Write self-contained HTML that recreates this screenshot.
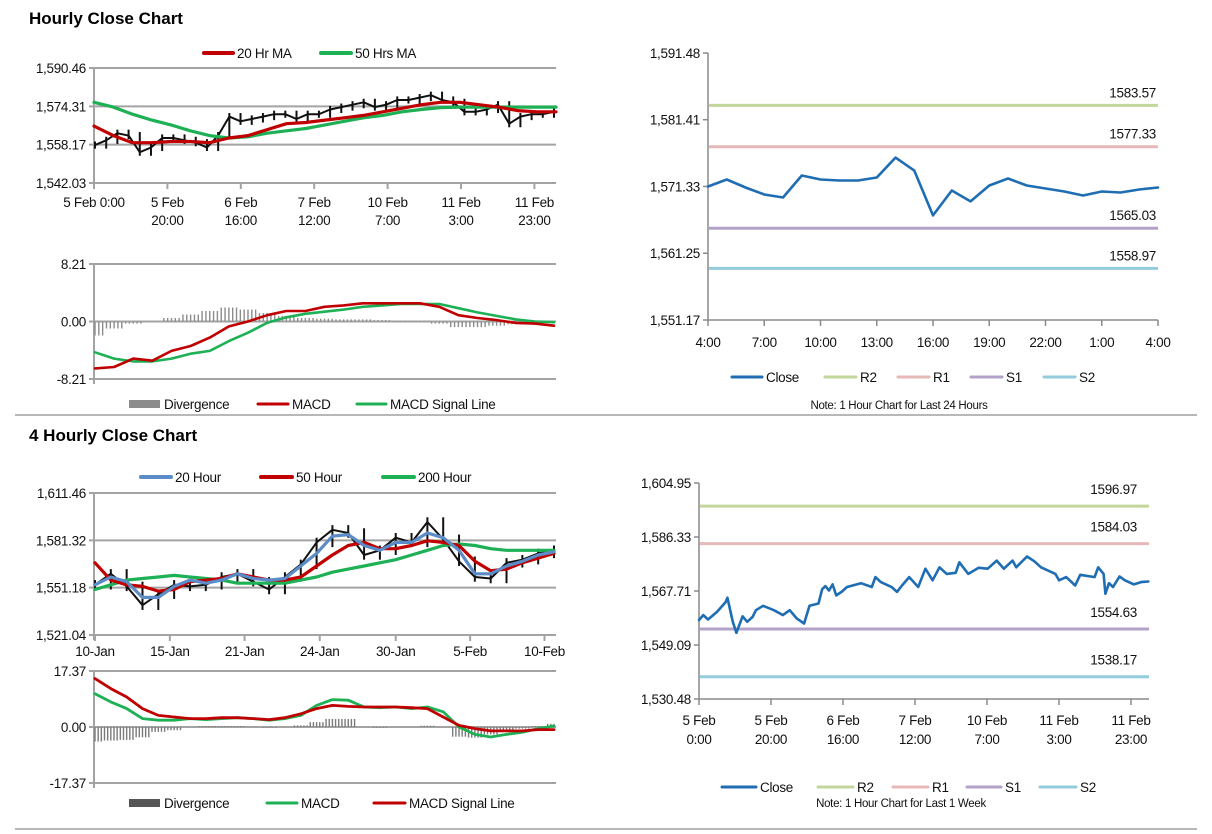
<!DOCTYPE html>
<html><head><meta charset="utf-8"><style>
html,body{margin:0;padding:0;background:#fff;}
svg{display:block;font-family:"Liberation Sans",Arial,sans-serif;}
</style></head><body>
<svg id="chart" width="1212" height="834" viewBox="0 0 1212 834" xmlns="http://www.w3.org/2000/svg">
<rect width="1212" height="834" fill="#fff"/>
<text x="29" y="24" font-size="17" font-weight="bold">Hourly Close Chart</text>
<text x="29" y="441" font-size="17" font-weight="bold">4 Hourly Close Chart</text>
<line x1="15" y1="415" x2="1197" y2="415" stroke="#a0a0a0" stroke-width="1.5"/>
<line x1="15" y1="829" x2="1197" y2="829" stroke="#a0a0a0" stroke-width="1.5"/>
<g id="layer"></g>
</svg>
<script>
// ---------- Top-left: hourly price ----------
const tlClose=[1558,1560,1563,1562,1555,1557,1561,1561,1560,1559,1557,1562,1570,1568,1569,1570,1571,1571,1569,1571,1571,1573,1574,1575,1576,1574,1575,1577,1577,1578,1579,1577,1576,1572,1572,1573,1575,1567,1570,1571,1571,1572];
const tlMA20=[1566,1562,1559,1559,1559.5,1559.5,1559,1561,1562,1564.5,1567,1567.5,1568.5,1569.5,1570.5,1572,1573.5,1575,1576,1576,1575,1574,1572.5,1572,1572];
const tlMA50=[1576,1574,1571,1568.5,1566.5,1564,1562,1561,1561.5,1563,1564,1565,1566.5,1568,1569.5,1570.5,1572,1573,1573.8,1574,1574,1574,1574,1574,1574];
const tlYTicks=[1542.03,1558.17,1574.31,1590.46];
const tlYLabels=['1,542.03','1,558.17','1,574.31','1,590.46'];
const tlXLabels=[['5 Feb 0:00'],['5 Feb','20:00'],['6 Feb','16:00'],['7 Feb','12:00'],['10 Feb','7:00'],['11 Feb','3:00'],['11 Feb','23:00']];
// ---------- Top-left: MACD ----------
const tlMacd=[-6.7,-6.5,-5.3,-5.6,-4.2,-3.5,-2.3,-0.7,0,0.9,1.5,1.5,2.1,2.3,2.6,2.6,2.6,2.6,2.1,0.9,0.5,0.2,-0.2,-0.3,-0.6];
const tlSignal=[-4.4,-5.3,-5.7,-5.7,-5.3,-4.6,-4.2,-2.8,-1.6,-0.2,0.6,1.1,1.4,1.7,2.1,2.3,2.5,2.5,2.5,1.9,1.3,0.8,0.3,0,-0.1];
const tlDiv=[-2.0,-1.0,-0.3,0,0.5,1.0,1.5,2.0,1.7,1.2,0.8,0.5,0.4,0.3,0.3,0.2,0.1,0.1,-0.3,-0.8,-0.8,-0.6,-0.4,-0.3,-0.2];
const tlMYTicks=[-8.21,0,8.21];
const tlMYLabels=['-8.21','0.00','8.21'];
// ---------- Top-right: last 24 hours ----------
const trClose=[1571.32,1572.38,1571.17,1570.12,1569.67,1572.98,1572.38,1572.23,1572.23,1572.68,1575.69,1573.73,1566.96,1570.72,1569.07,1571.47,1572.53,1571.47,1571.02,1570.57,1569.97,1570.57,1570.42,1570.87,1571.17];
const trLevels=[1583.57,1577.33,1565.03,1558.97];
const trLevelNames=['R2','R1','S1','S2'];
const trYTicks=[1551.17,1561.25,1571.33,1581.41,1591.48];
const trYLabels=['1,551.17','1,561.25','1,571.33','1,581.41','1,591.48'];
const trXLabels=['4:00','7:00','10:00','13:00','16:00','19:00','22:00','1:00','4:00'];
// ---------- Bottom-left: 4 hourly ----------
const blClose=[1553,1560,1552,1540,1547,1553,1552,1553,1558,1560,1555,1550,1558,1566,1580,1588,1586,1572,1575,1583,1580,1593,1582,1568,1558,1557,1567,1569,1573,1575];
const blMA20=[1553,1558,1555,1545,1545,1552,1556,1554,1556,1560,1557,1556,1557,1565,1573,1584,1585,1578,1575,1580,1580,1586,1583,1575,1560,1560,1565,1568,1572,1574];
const blMA50=[1567,1556,1553,1552,1549,1550,1555,1556,1557,1560,1558,1556,1556,1558,1565,1572,1578,1580,1576,1576,1578,1581,1580,1578,1568,1562,1563,1567,1570,1573];
const blMA200=[1550,1553,1556,1557,1558,1559,1558,1557,1556,1554,1554,1554,1554,1556,1558,1561,1563,1565,1567,1569,1572,1575,1578,1579,1578,1576,1575,1575,1575,1575];
const blYTicks=[1521.04,1551.18,1581.32,1611.46];
const blYLabels=['1,521.04','1,551.18','1,581.32','1,611.46'];
const blXTickIdx=[0,4.73,9.45,14.2,19.0,23.7,28.4];
const blXLabels=['10-Jan','15-Jan','21-Jan','24-Jan','30-Jan','5-Feb','10-Feb'];
const blMacd=[10.3,7.8,5.7,2.6,2.1,2.1,2.6,2.3,2.6,2.9,2.6,2.1,2.6,3.6,6.7,8.5,8.3,6.2,6.0,6.2,5.7,6.2,4.7,0,-2.3,-3.1,-2.3,-1.6,-0.5,0.3];
const blSignal=[15.0,11.9,9.3,5.7,3.6,3.1,2.6,2.6,2.9,2.9,2.6,2.3,2.9,4.1,5.7,6.7,6.4,6.2,6.2,6.2,6.0,5.7,3.1,0.5,-0.5,-1.2,-1.2,-1.2,-0.8,-0.8];
const blDiv=[-4.5,-4.2,-4,-3.2,-1.5,-1,0,0.3,0.3,0.3,0,-0.2,0,0.5,1.5,2.5,2.5,0,-0.2,0,0,0.4,0,-3,-3.3,-2.3,-1.2,-0.5,0.3,1];
const blMYTicks=[-17.37,0,17.37];
const blMYLabels=['-17.37','0.00','17.37'];
// ---------- Bottom-right: last week hourly ----------
const brHours=[0,1.2,2.5,5,7.4,7.9,9.4,10.4,12.1,13.4,14.9,15.8,17.8,20.8,23.3,25.2,27.2,29.2,30.7,33.2,34.2,35.1,36.1,37.1,38.1,39.6,41.1,45,48,49,50.5,53.5,55,56.4,58.4,60.9,62.9,64.9,66.8,68.8,71.3,72.3,74.8,77.7,80.2,82.7,84.7,87.1,88.1,91.1,93.1,95,99,100,102,104.5,105.9,109.9,110.9,112.4,112.9,113.9,115,116.8,118.3,120.8,122.8,124.8];
const brClose=[1557.7,1559.4,1557.9,1560.5,1563.9,1565.4,1557.1,1553.3,1559.0,1557.1,1558.8,1561.1,1562.6,1561.1,1559.4,1561.1,1558.2,1556.5,1562.6,1563.4,1568.3,1569.4,1567.9,1570.0,1566.2,1567.4,1569.1,1570.4,1569.1,1572.5,1570.8,1569.1,1567.4,1569.6,1572.5,1569.1,1575.4,1571.4,1575.9,1573.6,1574.0,1577.6,1573.6,1575.7,1575.4,1578.2,1575.4,1578.2,1575.9,1579.6,1578.0,1575.9,1573.6,1571.4,1572.5,1569.6,1573.3,1572.5,1575.9,1573.6,1566.8,1570.4,1569.1,1572.7,1571.4,1570.0,1570.8,1571.0];
const brLevels=[1596.97,1584.03,1554.63,1538.17];
const brYTicks=[1530.48,1549.09,1567.71,1586.33,1604.95];
const brYLabels=['1,530.48','1,549.09','1,567.71','1,586.33','1,604.95'];
const brXTickHours=[0,20,40,60,80,100,120];
const brXLabels=[['5 Feb','0:00'],['5 Feb','20:00'],['6 Feb','16:00'],['7 Feb','12:00'],['10 Feb','7:00'],['11 Feb','3:00'],['11 Feb','23:00']];

const NS='http://www.w3.org/2000/svg';
const layer=document.getElementById('layer');
const RED='#c00000',GREEN='#1db055',BLUE='#5b8cc8',CLOSE='#1f6db3',GRID='#a3a3a3';
const LVL=['#c3d69b','#e6b9b8','#b3a2c7','#93cddd'];
function sc(d0,d1,r0,r1){return v=>r0+(v-d0)/(d1-d0)*(r1-r0);}
function mk(tag,attrs,parent){const e=document.createElementNS(NS,tag);for(const k in attrs)e.setAttribute(k,attrs[k]);(parent||layer).appendChild(e);return e;}
function grp(name){const g=document.createElementNS(NS,'g');


layer.appendChild(g);return g;}
function txt(g,x,y,s,anchor,size,name){const t=mk('text',{x:x,y:y,'font-size':size||13,'text-anchor':anchor||'start','letter-spacing':'-0.3',fill:'#111'},g);t.textContent=s;


return t;}
function path(g,pts,color,w,name){const d=pts.map((p,i)=>(i?'L':'M')+p[0].toFixed(1)+','+p[1].toFixed(1)).join('');const p=mk('path',{d:d,fill:'none',stroke:color,'stroke-width':w,'stroke-linejoin':'round','stroke-linecap':'round'},g);


return p;}
function hline(g,x1,x2,y,color,w,name){const l=mk('line',{x1:x1,x2:x2,y1:y,y2:y,stroke:color,'stroke-width':w},g);


return l;}
function vline(g,x,y1,y2,color,w,name){const l=mk('line',{x1:x,x2:x,y1:y1,y2:y2,stroke:color,'stroke-width':w},g);


return l;}
function legend(g,items,y){items.forEach(it=>{
 if(it.box){const r=mk('rect',{x:it.x1,y:y-4,width:it.x2-it.x1,height:8,fill:it.c},g);
 
 }
 else{const l=hline(g,it.x1,it.x2,y,it.c,it.w||4,'legend-swatch');l.setAttribute('stroke-linecap','round');}
 txt(g,it.x2+4,y+5,it.t,'start',13.5,'legend-entry');});}
function gridPanel(g,x0,x1,ys,labels,yS){ys.forEach((v,i)=>{hline(g,x0-5,x1,yS(v),GRID,2,'gridline');txt(g,x0-8,yS(v)+5,labels[i],'end',13.5,'y-tick-label');});vline(g,x0,yS(ys[ys.length-1]),yS(ys[0])+5,GRID,2,'y-axis');}
function bars(g,vals,xS,yS,w,ext){path(g,vals.map((v,i)=>[xS(i),yS(v)]),'#111',2,'price-line');
vals.forEach((v,i)=>{const p=i?vals[i-1]:v;const lo=Math.min(p,v)-ext,hi=Math.max(p,v)+ext;vline(g,xS(i),yS(hi),yS(lo),'#111',w,'price-bar');});}
function divBars(g,vals,xS,yS,color){const step=xS(1)-xS(0);vals.forEach((v,i)=>{for(let k=-2;k<=2;k++){const x=xS(i)+k*step/5;if(x<xS(0)||x>xS(vals.length-1))continue;vline(g,x,yS(0),yS(v),color,1.4,'divergence-bar');}});}

// ===== Top-left price =====
(function(){const g=grp('hourly-price-chart');const x0=94,x1=556;
const yS=sc(1542.03,1590.46,183,68);gridPanel(g,x0,x1,tlYTicks,tlYLabels,yS);
tlXLabels.forEach((l,i)=>{const x=x0+i*73.4;vline(g,x,183,189,GRID,2,'x-tick');txt(g,x,207,l[0],'middle',13.5,'x-tick-label');if(l[1])txt(g,x,225,l[1],'middle',13.5,'x-tick-label');});
const cS=sc(0,tlClose.length-1,x0+1,x1-2);bars(g,tlClose,cS,yS,2,1.5);
const mS=sc(0,tlMA20.length-1,x0,x1);
path(g,tlMA50.map((v,i)=>[mS(i),yS(v)]),GREEN,3.2,'ma50-line');
path(g,tlMA20.map((v,i)=>[mS(i),yS(v)]),RED,3.2,'ma20-line');
legend(g,[{x1:204,x2:233,c:RED,t:'20 Hr MA'},{x1:321,x2:351,c:GREEN,t:'50 Hrs MA'}],53);})();
// ===== Top-left MACD =====
(function(){const g=grp('hourly-macd-chart');const x0=94,x1=556;
const yS=sc(-8.21,8.21,379,264);gridPanel(g,x0,x1,tlMYTicks,tlMYLabels,yS);
const xS=sc(0,tlMacd.length-1,x0+1,x1-2);divBars(g,tlDiv,xS,yS,'#8c8c8c');
path(g,tlSignal.map((v,i)=>[xS(i),yS(v)]),GREEN,2.6,'macd-signal-line');
path(g,tlMacd.map((v,i)=>[xS(i),yS(v)]),RED,2.6,'macd-line');
legend(g,[{x1:129,x2:160,c:'#8c8c8c',box:1,t:'Divergence'},{x1:258,x2:288,c:RED,w:3,t:'MACD'},{x1:357,x2:386,c:GREEN,w:3,t:'MACD Signal Line'}],404);})();
// ===== Top-right =====
(function(){const g=grp('last-24h-chart');const x0=708,x1=1158;
const yS=sc(1551.17,1591.48,320,53);const xS=sc(0,24,x0,x1);
vline(g,x0,53,320,'#8a8a8a',1.5,'y-axis');hline(g,x0,x1,320,'#8a8a8a',1.5,'x-axis');
trYTicks.forEach((v,i)=>{hline(g,x0-5,x0,yS(v),'#8a8a8a',1.5,'y-tick');txt(g,x0-8,yS(v)+5,trYLabels[i],'end',13.5,'y-tick-label');});
trXLabels.forEach((l,i)=>{const x=xS(i*3);vline(g,x,320,326,'#8a8a8a',1.5,'x-tick');txt(g,x,347,l,'middle',13.5,'x-tick-label');});
trLevels.forEach((v,i)=>{hline(g,x0+1,x1,yS(v),LVL[i],3,'level-'+trLevelNames[i].toLowerCase());txt(g,1156,yS(v)-8,v.toFixed(2),'end',13.5,'level-value');});
path(g,trClose.map((v,i)=>[xS(i),yS(v)]),CLOSE,2.6,'close-line');
legend(g,[{x1:732,x2:762,c:CLOSE,w:3,t:'Close'},{x1:825,x2:856,c:LVL[0],w:3,t:'R2'},{x1:898,x2:929,c:LVL[1],w:3,t:'R1'},{x1:971,x2:1002,c:LVL[2],w:3,t:'S1'},{x1:1044,x2:1075,c:LVL[3],w:3,t:'S2'}],377);
txt(g,899,409,'Note: 1 Hour Chart for Last 24 Hours','middle',11.5,'chart-note');})();
// ===== Bottom-left price =====
(function(){const g=grp('four-hourly-price-chart');const x0=94,x1=556;
const yS=sc(1521.04,1611.46,635,493);gridPanel(g,x0,x1,blYTicks,blYLabels,yS);
const xS=sc(0,blClose.length-1,x0+1,x1-2);
blXTickIdx.forEach((t,i)=>{const x=xS(t);vline(g,x,635,641,GRID,2,'x-tick');txt(g,x,656,blXLabels[i],'middle',13.5,'x-tick-label');});
bars(g,blClose,xS,yS,2,3);
path(g,blMA200.map((v,i)=>[xS(i),yS(v)]),GREEN,3.2,'ma200-line');
path(g,blMA50.map((v,i)=>[xS(i),yS(v)]),RED,3.2,'ma50-line');
path(g,blMA20.map((v,i)=>[xS(i),yS(v)]),BLUE,3.2,'ma20-line');
legend(g,[{x1:141,x2:171,c:BLUE,t:'20 Hour'},{x1:261,x2:292,c:RED,t:'50 Hour'},{x1:383,x2:414,c:GREEN,t:'200 Hour'}],477);})();
// ===== Bottom-left MACD =====
(function(){const g=grp('four-hourly-macd-chart');const x0=94,x1=556;
const yS=sc(-17.37,17.37,783,671);gridPanel(g,x0,x1,blMYTicks,blMYLabels,yS);
const xS=sc(0,blMacd.length-1,x0+1,x1-2);divBars(g,blDiv,xS,yS,'#7a7a7a');
path(g,blMacd.map((v,i)=>[xS(i),yS(v)]),GREEN,2.8,'macd-line');
path(g,blSignal.map((v,i)=>[xS(i),yS(v)]),RED,2.8,'macd-signal-line');
legend(g,[{x1:129,x2:160,c:'#555',box:1,t:'Divergence'},{x1:267,x2:297,c:GREEN,w:3,t:'MACD'},{x1:374,x2:405,c:RED,w:3,t:'MACD Signal Line'}],803);})();
// ===== Bottom-right =====
(function(){const g=grp('last-week-chart');const x0=699,x1=1149;
const yS=sc(1530.48,1604.95,699,483);const xS=sc(0,125,x0,x1);
vline(g,x0,483,699,'#8a8a8a',1.5,'y-axis');hline(g,x0,x1,699,'#8a8a8a',1.5,'x-axis');
brYTicks.forEach((v,i)=>{hline(g,x0-5,x0,yS(v),'#8a8a8a',1.5,'y-tick');txt(g,x0-8,yS(v)+5,brYLabels[i],'end',13.5,'y-tick-label');});
brXTickHours.forEach((h,i)=>{const x=xS(h);vline(g,x,699,705,'#8a8a8a',1.5,'x-tick');txt(g,x,725,brXLabels[i][0],'middle',13.5,'x-tick-label');txt(g,x,744,brXLabels[i][1],'middle',13.5,'x-tick-label');});
brLevels.forEach((v,i)=>{hline(g,x0+1,x1,yS(v),LVL[i],3,'level-'+trLevelNames[i].toLowerCase());txt(g,1137,yS(v)-12,v.toFixed(2),'end',13.5,'level-value');});
path(g,brClose.map((v,i)=>[xS(brHours[i]),yS(v)]),CLOSE,2.6,'close-line');
legend(g,[{x1:722,x2:756,c:CLOSE,w:3,t:'Close'},{x1:818,x2:853,c:LVL[0],w:3,t:'R2'},{x1:893,x2:928,c:LVL[1],w:3,t:'R1'},{x1:967,x2:1001,c:LVL[2],w:3,t:'S1'},{x1:1040,x2:1076,c:LVL[3],w:3,t:'S2'}],787);
txt(g,901,807,'Note: 1 Hour Chart for Last 1 Week','middle',11.5,'chart-note');})();
</script>
</body></html>
